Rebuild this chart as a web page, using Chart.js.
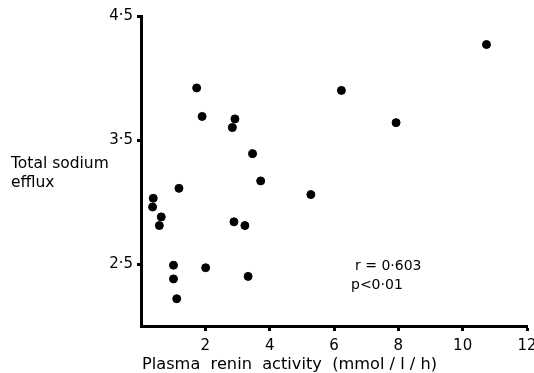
<!DOCTYPE html>
<html>
<head>
<meta charset="utf-8">
<script src="https://cdn.jsdelivr.net/npm/chart.js@4.4.1/dist/chart.umd.min.js"></script>
<style>
  html, body { margin: 0; padding: 0; background: #fff; }
  #wrap { width: 534px; height: 373px; position: relative; }
</style>
</head>
<body>
<div id="wrap"><canvas id="chart"></canvas></div>
<script>
// ===== DATA =====
const reninActivity = [1.73, 1.90, 2.92, 2.84, 3.47, 3.72, 1.18, 0.38, 0.36, 0.63, 0.57,
                       2.89, 3.23, 1.01, 2.01, 3.33, 1.01, 1.11, 10.74, 6.23, 7.93, 5.28];
const sodiumEfflux  = [3.92, 3.69, 3.67, 3.60, 3.39, 3.17, 3.11, 3.03, 2.96, 2.88, 2.81,
                       2.84, 2.81, 2.49, 2.47, 2.40, 2.38, 2.22, 4.27, 3.90, 3.64, 3.06];
const xTicks = [2, 4, 6, 8, 10, 12];
const yTicks = [2.5, 3.5, 4.5];
const yLabel = ['Total sodium', 'efflux'];
const xLabel = 'Plasma  renin  activity  (mmol / l / h)';
const statLines = ['r = 0\u00b7603', 'p<0\u00b701'];

const FONT = 'DejaVu Sans';

// draws the free text: axis labels and r / p values
const textPlugin = {
    id: 'notes',
    afterDraw(chart) {
        const ctx = chart.ctx;
        ctx.save();
        ctx.fillStyle = '#000';
        ctx.textBaseline = 'middle';
        ctx.textAlign = 'left';
        ctx.font = '15.5px "' + FONT + '"';
        ctx.fillText(yLabel[0], 11, 164);
        ctx.fillText(yLabel[1], 11, 183);
        ctx.font = '14px "' + FONT + '"';
        ctx.fillText(statLines[0], 355, 266);
        ctx.fillText(statLines[1], 351, 285);
        // x label, spread to the reference width
        ctx.font = '15px "' + FONT + '"';
        const w = ctx.measureText(xLabel).width;
        ctx.save();
        ctx.translate(142, 365);
        ctx.scale(295 / w, 1);
        ctx.fillText(xLabel, 0, 0);
        ctx.restore();
        ctx.restore();
    }
};

const ctx = document.getElementById('chart').getContext('2d');
new Chart(ctx, {
    type: 'scatter',
    data: {
        datasets: [{
            data: reninActivity.map((x, i) => ({ x: x, y: sodiumEfflux[i] })),
            backgroundColor: '#000',
            borderColor: '#000',
            pointRadius: 4,
            pointHoverRadius: 4
        }]
    },
    options: {
        responsive: true,
        maintainAspectRatio: false,
        animation: false,
        layout: { padding: { top: 16, right: 7, left: 0, bottom: 0 } },
        plugins: { legend: { display: false }, tooltip: { enabled: false } },
        scales: {
            x: {
                type: 'linear',
                min: 0, max: 12,
                afterBuildTicks: (s) => { s.ticks = xTicks.map(v => ({ value: v })); },
                afterFit: (s) => { s.height = 47; s.paddingLeft = 0; s.paddingRight = 0; },
                border: { display: true, color: '#000', width: 3 },
                grid: { drawOnChartArea: false, color: '#000', tickLength: 5, tickWidth: 3 },
                ticks: { color: '#000', font: { family: FONT, size: 15 }, padding: 6, maxRotation: 0 }
            },
            y: {
                type: 'linear',
                min: 2, max: 4.5,
                afterBuildTicks: (s) => { s.ticks = yTicks.map(v => ({ value: v })); },
                afterFit: (s) => { s.width = 141; s.paddingTop = 0; s.paddingBottom = 0; },
                border: { display: true, color: '#000', width: 3 },
                grid: { drawOnChartArea: false, color: '#000', tickLength: 4, tickWidth: 3 },
                ticks: {
                    color: '#000', font: { family: FONT, size: 15 }, padding: 4,
                    callback: (v) => v.toFixed(1).replace('.', '\u00b7')
                }
            }
        }
    },
    plugins: [textPlugin]
});
</script>
</body>
</html>
